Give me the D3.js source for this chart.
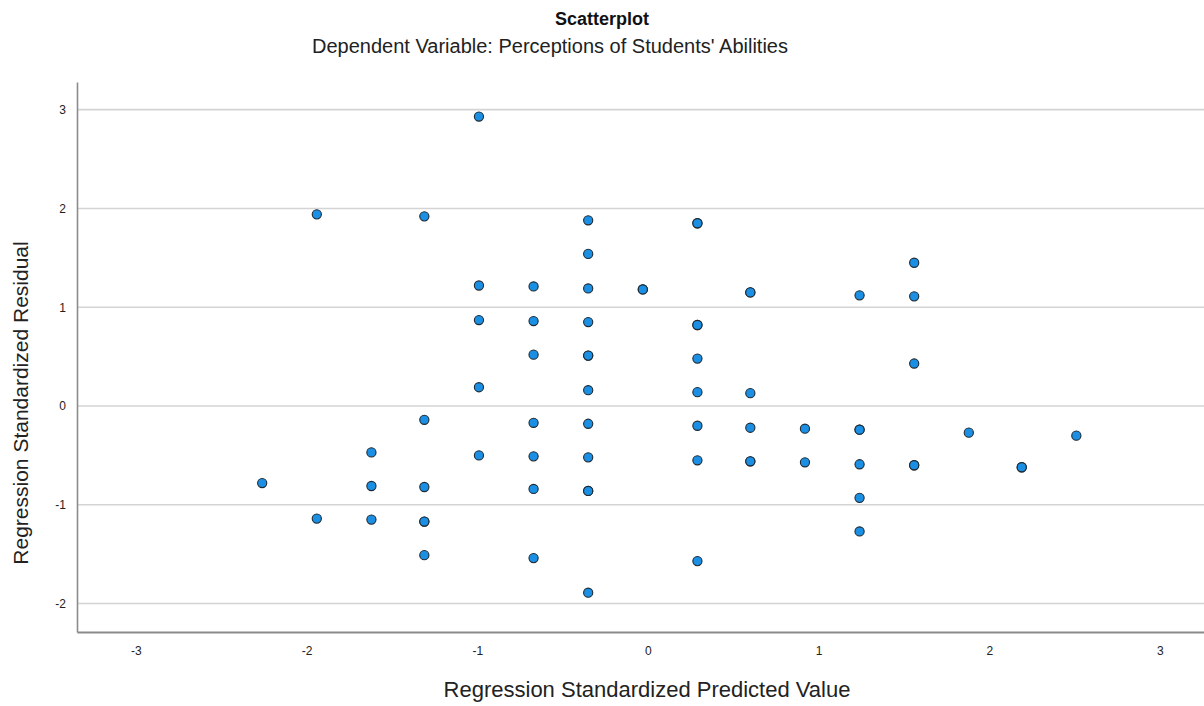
<!DOCTYPE html>
<html>
<head>
<meta charset="utf-8">
<script src="https://cdn.jsdelivr.net/npm/d3@7"></script>
<style>
  body { margin: 0; background: #fff; }
  svg { display: block; font-family: 'Liberation Sans', Arial, sans-serif; }
</style>
</head>
<body>
<svg id="chart" width="1204" height="706"></svg>
<script>
// standardized predicted values and residuals (paired), repeated entries are overlapping cases
const predicted = [
  -2.26,
  -1.94, -1.94,
  -1.62, -1.62, -1.62,
  -1.31, -1.31, -1.31, -1.31, -1.31, -1.31,
  -0.99, -0.99, -0.99, -0.99, -0.99,
  -0.67, -0.67, -0.67, -0.67, -0.67, -0.67, -0.67,
  -0.35, -0.35, -0.35, -0.35, -0.35, -0.35, -0.35, -0.35, -0.35, -0.35, -0.35, -0.35,
  -0.03, -0.03,
  0.29, 0.29, 0.29, 0.29, 0.29, 0.29, 0.29, 0.29, 0.29,
  0.60, 0.60, 0.60, 0.60, 0.60, 0.60,
  0.92, 0.92,
  1.24, 1.24, 1.24, 1.24, 1.24, 1.24,
  1.56, 1.56, 1.56, 1.56, 1.56,
  1.88,
  2.19, 2.19,
  2.51
]
const residual = [
  -0.78,
  1.94, -1.14,
  -0.47, -0.81, -1.15,
  1.92, -0.14, -0.82, -1.17, -1.17, -1.51,
  2.93, 1.22, 0.87, 0.19, -0.50,
  1.21, 0.86, 0.52, -0.17, -0.51, -0.84, -1.54,
  1.88, 1.54, 1.19, 0.85, 0.51, 0.51, 0.16, -0.18, -0.52, -0.86, -0.86, -1.89,
  1.18, 1.18,
  1.85, 1.85, 0.82, 0.82, 0.48, 0.14, -0.20, -0.55, -1.57,
  1.15, 1.15, 0.13, -0.22, -0.56, -0.56,
  -0.23, -0.57,
  1.12, -0.24, -0.24, -0.59, -0.93, -1.27,
  1.45, 1.11, 0.43, -0.60, -0.60,
  -0.27,
  -0.62, -0.62,
  -0.30
]
const xTicks = [-3, -2, -1, 0, 1, 2, 3]
const yTicks = [-2, -1, 0, 1, 2, 3]

const title = 'Scatterplot'
const subtitle = 'Dependent Variable: Perceptions of Students\' Abilities'
const xLabel = 'Regression Standardized Predicted Value'
const yLabel = 'Regression Standardized Residual'

const svg = d3.select('#chart')
const plot = {left: 77, right: 1204, top: 82, bottom: 632}

const x = d3.scaleLinear().domain([-3.345, 3.258]).range([plot.left, plot.right])
const y = d3.scaleLinear().domain([-2.288, 3.28]).range([plot.bottom, plot.top])

// horizontal grid
svg.append('g')
  .selectAll('line')
  .data(yTicks)
  .enter()
  .append('line')
  .attr('x1', plot.left).attr('x2', plot.right)
  .attr('y1', d => y(d)).attr('y2', d => y(d))
  .attr('stroke', '#d4d4d4')
  .attr('stroke-width', 1.6)

const yAxis = svg.append('g')
  .attr('transform', 'translate(' + plot.left + ',0)')
  .call(d3.axisLeft(y).tickValues(yTicks).tickSize(0).tickPadding(11).tickFormat(d => String(d)))
yAxis.select('.domain').attr('stroke', '#8c8c8c').attr('stroke-width', 1.6)

const xAxis = svg.append('g')
  .attr('transform', 'translate(0,' + plot.bottom + ')')
  .call(d3.axisBottom(x).tickValues(xTicks).tickSize(0).tickPadding(14).tickFormat(d => String(d)))
xAxis.select('.domain').attr('stroke', '#8a8a8a').attr('stroke-width', 2)

svg.selectAll('.tick text')
  .attr('font-family', "'Liberation Sans', Arial, sans-serif")
  .attr('font-size', 12)
  .attr('fill', '#222')

// points
svg.append('g')
  .selectAll('circle')
  .data(predicted.map((p, i) => ({p: p, r: residual[i]})))
  .enter()
  .append('circle')
  .attr('cx', d => x(d.p))
  .attr('cy', d => y(d.r))
  .attr('r', 4.6)
  .attr('fill', '#1a8fe3')
  .attr('stroke', '#1e2a33')
  .attr('stroke-width', 1.1)

// texts
svg.append('text')
  .attr('x', 602).attr('y', 25)
  .attr('text-anchor', 'middle')
  .attr('font-size', 18)
  .attr('font-weight', 'bold')
  .attr('fill', '#111')
  .text(title)

svg.append('text')
  .attr('x', 550).attr('y', 53)
  .attr('text-anchor', 'middle')
  .attr('font-size', 20)
  .attr('fill', '#222')
  .text(subtitle)

svg.append('text')
  .attr('x', 647).attr('y', 697)
  .attr('text-anchor', 'middle')
  .attr('font-size', 22)
  .attr('fill', '#222')
  .text(xLabel)

svg.append('text')
  .attr('transform', 'translate(28,' + 403 + ') rotate(-90)')
  .attr('text-anchor', 'middle')
  .attr('font-size', 21)
  .attr('fill', '#222')
  .text(yLabel)
</script>
</body>
</html>
